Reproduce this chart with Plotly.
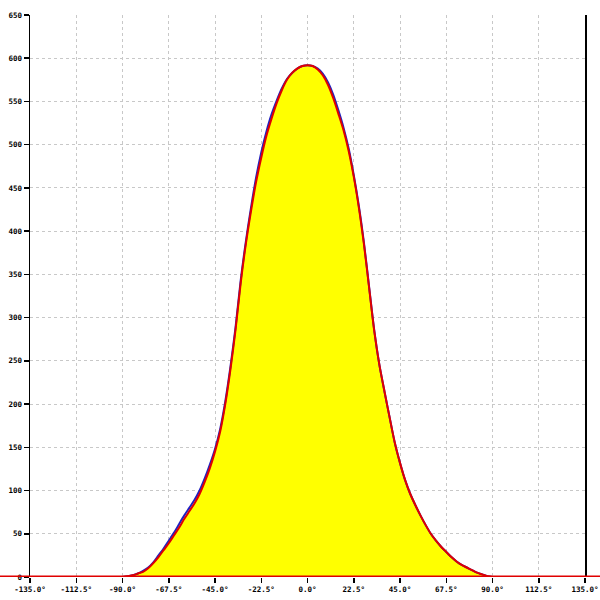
import plotly.graph_objects as go

angles = [-90 + 2.5 * i for i in range(73)]

fit_values = [
    0, 1, 2, 4, 6, 10, 16, 23, 31, 39, 48, 57, 67, 76, 85, 96, 110, 126, 145, 168,
    200, 240, 286, 340, 385, 423, 457, 485, 510, 530, 548, 563, 575, 583, 588, 591,
    592,
    591, 587, 580, 569, 554, 536, 517, 493, 463, 427, 384, 334, 284, 245, 214, 184,
    155, 132, 112, 96, 83, 71, 60, 50, 42, 35, 29, 23, 18, 14, 11, 8, 5, 3, 1, 0,
]

measured_values = [
    0, 1, 2, 4, 7, 11, 17, 25, 33, 42, 51, 61, 71, 80, 89, 100, 114, 130, 148, 171,
    203, 243, 289, 343, 388, 427, 462, 491, 515, 535, 551, 565, 576, 583, 588, 591,
    592,
    591, 588, 582, 572, 558, 540, 520, 496, 465, 429, 386, 335, 285, 245, 214, 184,
    155, 132, 112, 96, 83, 71, 60, 50, 42, 35, 29, 23, 18, 14, 11, 8, 5, 3, 1, 0,
]

x_tick_vals = [-135, -112.5, -90, -67.5, -45, -22.5, 0, 22.5, 45, 67.5, 90, 112.5, 135]
x_tick_text = [f"{v:.1f}°" for v in x_tick_vals]
y_tick_vals = [0, 50, 100, 150, 200, 250, 300, 350, 400, 450, 500, 550, 600, 650]
y_tick_text = [str(v) for v in y_tick_vals]

fig = go.Figure()
fig.add_trace(go.Scatter(
    x=angles, y=fit_values, mode="none", fill="tozeroy", line_shape="spline",
    fillcolor="#ffff00", hoverinfo="skip", showlegend=False,
))
fig.add_trace(go.Scatter(
    x=angles, y=measured_values, mode="lines",
    line=dict(color="#2020c0", width=2, shape="spline", smoothing=0.8), showlegend=False,
))
fig.add_trace(go.Scatter(
    x=angles, y=fit_values, mode="lines",
    line=dict(color="#e00000", width=2, shape="spline", smoothing=0.8), showlegend=False,
))

fig.add_shape(type="line", xref="paper", yref="y", x0=-0.1, x1=1.1, y0=0, y1=0,
              line=dict(color="#e00000", width=3), layer="above")

tick_font = dict(family="DejaVu Sans Mono", size=7.5, color="black", weight="bold")
fig.update_layout(
    width=600, height=600,
    margin=dict(l=30, r=15, t=15, b=23),
    paper_bgcolor="white", plot_bgcolor="white",
    xaxis=dict(
        range=[-135, 135], tickmode="array", tickvals=x_tick_vals, ticktext=x_tick_text,
        showgrid=True, gridcolor="#c8c8c8", griddash="3px,3px", gridwidth=1,
        zeroline=False, showline=False, ticks="outside", ticklen=5, tickcolor="black",
        tickwidth=1.5, tickfont=tick_font, fixedrange=True, automargin=False,
        ticklabeloverflow="allow",
    ),
    yaxis=dict(
        range=[0, 650], tickmode="array", tickvals=y_tick_vals, ticktext=y_tick_text,
        showgrid=True, gridcolor="#c8c8c8", griddash="3px,3px", gridwidth=1,
        zeroline=False, showline=True, linecolor="black", linewidth=1.5, mirror=True,
        ticks="outside", ticklen=5, tickcolor="black", tickwidth=1.5,
        tickfont=tick_font, fixedrange=True, automargin=False,
        ticklabeloverflow="allow",
    ),
)

fig.write_html(
    "out.html",
    config={"displayModeBar": False, "staticPlot": True},
    post_script="document.body.style.margin='0';document.body.style.overflow='hidden';",
)
